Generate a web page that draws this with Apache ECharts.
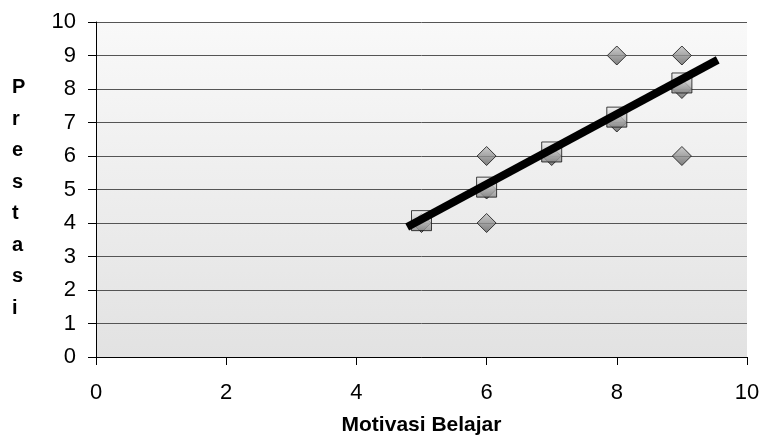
<!DOCTYPE html>
<html><head><meta charset="utf-8">
<script src="https://cdn.jsdelivr.net/npm/echarts@6/dist/echarts.min.js"></script>
<style>html,body{margin:0;padding:0;background:#fff}#c{width:764px;height:443px}</style>
</head><body><div id="c"></div>
<script>
const xTicks = [0, 2, 4, 6, 8, 10];
const yTicks = [0,1,2,3,4,5,6,7,8,9,10];
const observed = [[5,4],[6,4],[6,5],[6,6],[7,6],[8,7],[8,9],[9,6],[9,8],[9,9]];
const predicted = [[5,4.07],[6,5.07],[7,6.12],[8,7.16],[9,8.18]];
const trend = [[4.78,3.88],[9.55,8.87]];
const xName = 'Motivasi Belajar';
const yName = 'Prestasi';

const chart = echarts.init(document.getElementById('c'));
const font = 'Liberation Sans, Arial, sans-serif';
chart.setOption({
  animation: false,
  backgroundColor: '#fff',
  grid: { left: 96, right: 17, top: 22, bottom: 86, show: true,
    backgroundColor: new echarts.graphic.LinearGradient(0,0,0,1,[{offset:0,color:'#f9f9f9'},{offset:1,color:'#e2e2e2'}]),
    borderWidth: 0 },
  xAxis: { type: 'value', min: xTicks[0], max: xTicks[xTicks.length-1], interval: xTicks[1]-xTicks[0],
    name: xName, nameLocation: 'middle', nameGap: 58,
    nameTextStyle: { fontFamily: font, fontSize: 21, fontWeight: 'bold', color: '#000' },
    axisLine: { show: true, onZero: false, lineStyle: { color: '#000', width: 1 } },
    axisTick: { show: true, length: 8, lineStyle: { color: '#000' } },
    axisLabel: { fontFamily: font, fontSize: 22, color: '#000', margin: 25 },
    splitLine: { show: false } },
  yAxis: { type: 'value', min: yTicks[0], max: yTicks[yTicks.length-1], interval: yTicks[1]-yTicks[0],
    axisLine: { show: true, lineStyle: { color: '#000', width: 1 } },
    axisTick: { show: true, length: 8, lineStyle: { color: '#000' } },
    axisLabel: { fontFamily: font, fontSize: 22, color: '#000', margin: 20 },
    splitLine: { show: true, lineStyle: { color: '#555', width: 1 } } },
  graphic: [{ type: 'text', left: 12, top: 72, z: 10,
    style: { text: yName.split('').join('\n'), fontFamily: font, fontSize: 20, fontWeight: 'bold',
      fill: '#000', lineHeight: 31.5, align: 'center' } }],
  series: [
    { type: 'scatter', data: observed, symbol: 'diamond', symbolSize: [19,19], z: 2,
      itemStyle: { color: new echarts.graphic.LinearGradient(0,0,0,1,[{offset:0,color:'#c4c4c4'},{offset:1,color:'#606060'}]),
        borderColor: '#111', borderWidth: 1 } },
    { type: 'scatter', data: predicted, symbol: 'rect', symbolSize: [20,20], z: 3,
      itemStyle: { color: new echarts.graphic.LinearGradient(0,0,0,1,[{offset:0,color:'#f4f4f4'},{offset:1,color:'#888'}]),
        borderColor: '#111', borderWidth: 1 } },
    { type: 'line', data: trend, symbol: 'none', z: 4,
      lineStyle: { color: '#000', width: 8 } }
  ]
});
</script></body></html>
